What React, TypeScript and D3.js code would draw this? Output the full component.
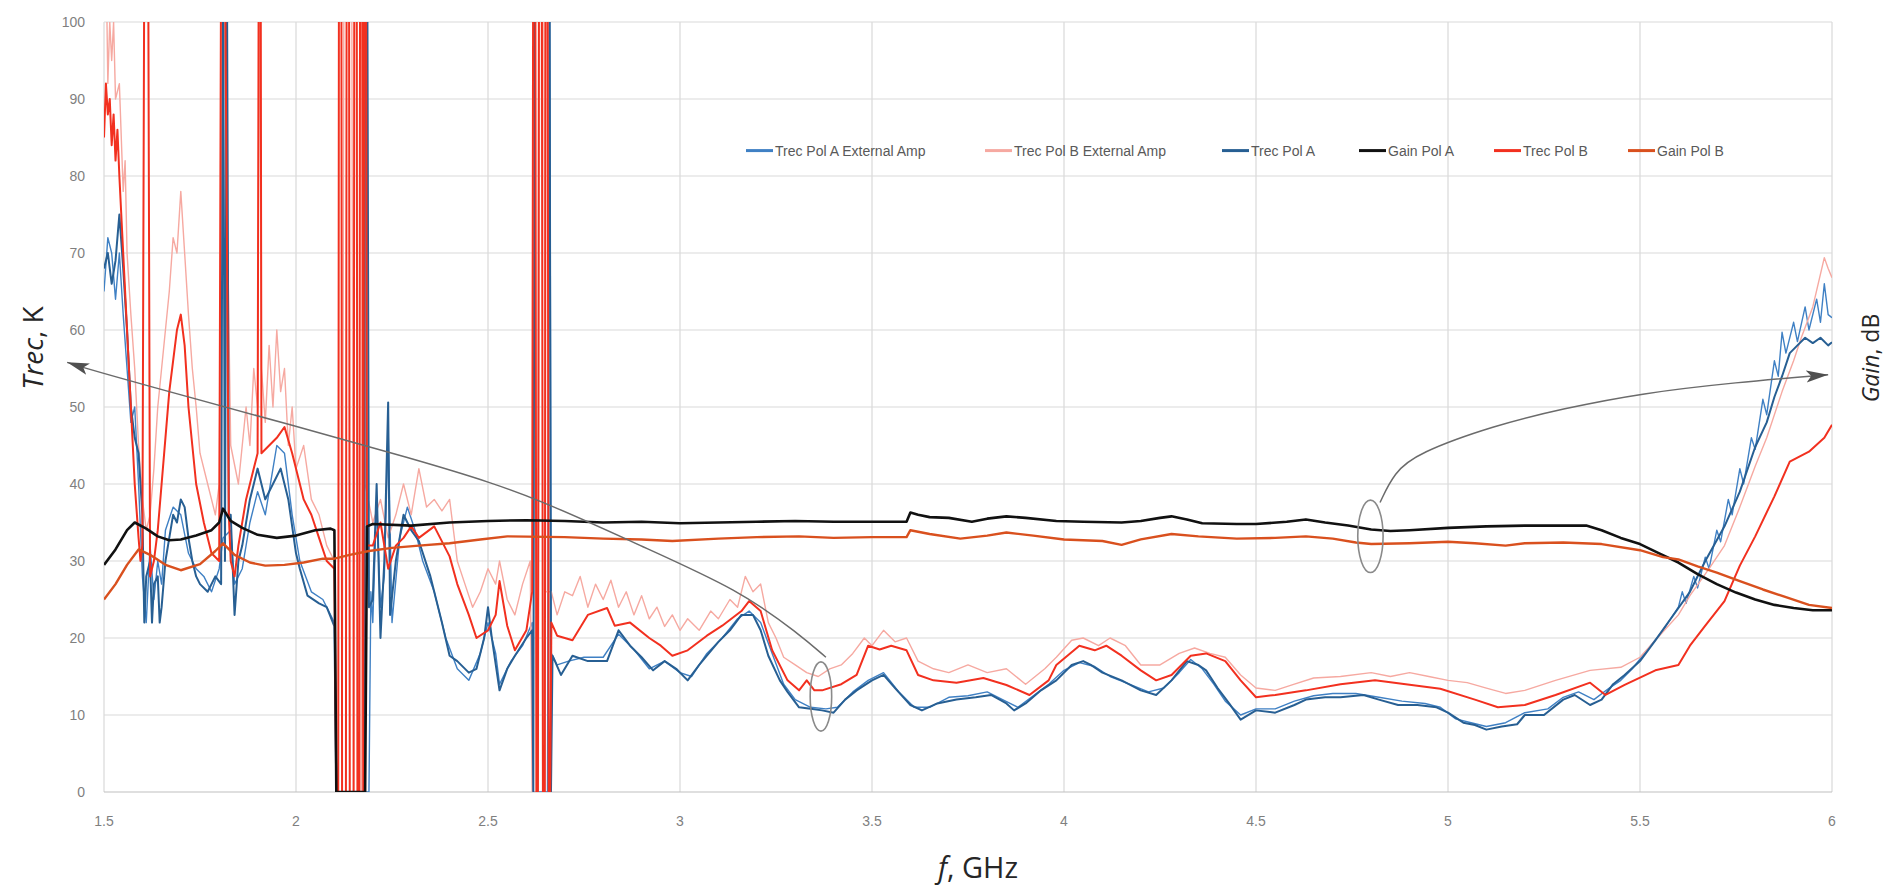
import React, { useEffect, useRef } from 'react'
import * as d3 from 'd3'

type Pt = [number, number]

// frequency (GHz), value
const trecPolAExt: Pt[] = [
  [1.5, 65], [1.51, 72], [1.52, 70], [1.53, 64], [1.54, 70], [1.55, 62], [1.56, 55], [1.57, 48], [1.58, 50], [1.59, 40],
  [1.6, 28], [1.61, 22], [1.62, 32], [1.63, 25], [1.64, 30], [1.65, 27], [1.66, 34], [1.68, 37], [1.7, 36], [1.72, 31],
  [1.74, 29], [1.76, 28], [1.78, 26], [1.8, 29], [1.81, 33], [1.83, 34], [1.84, 27], [1.86, 29], [1.88, 35], [1.9, 39],
  [1.92, 36], [1.94, 42], [1.95, 45], [1.97, 44], [1.99, 36], [2.01, 30], [2.04, 26], [2.07, 25], [2.09, 23], [2.1, 22],
  [2.106, 0], [2.19, 0], [2.195, 26], [2.2, 22], [2.21, 38], [2.22, 24], [2.23, 28], [2.24, 47], [2.25, 22], [2.27, 33],
  [2.29, 37], [2.31, 34], [2.33, 30], [2.36, 26], [2.39, 20], [2.42, 16], [2.45, 14.5], [2.48, 18], [2.5, 22], [2.52, 18],
  [2.53, 14], [2.56, 17], [2.59, 19], [2.615, 22], [2.617, 0], [2.655, 0], [2.66, 110], [2.665, 18], [2.68, 16.5], [2.71, 17],
  [2.75, 17.5], [2.8, 17.5], [2.84, 20.5], [2.88, 18.5], [2.92, 16], [2.96, 17], [3.0, 15.5], [3.03, 15], [3.07, 18], [3.11, 20],
  [3.15, 22.5], [3.18, 23.5], [3.21, 22], [3.24, 18], [3.27, 14], [3.3, 12], [3.34, 11], [3.38, 10.8], [3.41, 11], [3.45, 13],
  [3.49, 14.5], [3.53, 15.5], [3.57, 13], [3.61, 11], [3.65, 11], [3.7, 12.3], [3.75, 12.5], [3.8, 13], [3.84, 12], [3.88, 11],
  [3.92, 12.5], [3.96, 14], [4.0, 15.8], [4.04, 16.8], [4.08, 16.3], [4.12, 15], [4.17, 14], [4.22, 13], [4.26, 13.5], [4.3, 15.5],
  [4.33, 17.2], [4.36, 16], [4.39, 14], [4.42, 11.8], [4.46, 10], [4.5, 10.8], [4.55, 10.8], [4.6, 11.8], [4.65, 12.5], [4.7, 12.8],
  [4.76, 12.8], [4.82, 12.3], [4.88, 11.8], [4.94, 11.5], [4.98, 11], [5.02, 9.5], [5.06, 9], [5.1, 8.5], [5.15, 9], [5.2, 10.3],
  [5.26, 10.8], [5.3, 12.3], [5.34, 13], [5.38, 12], [5.42, 13.5], [5.45, 14.5], [5.48, 16], [5.52, 18.5], [5.56, 21], [5.6, 24],
  [5.61, 26], [5.62, 24.5], [5.64, 28], [5.65, 26.5], [5.67, 30.5], [5.68, 29], [5.7, 34], [5.71, 32.5], [5.73, 38], [5.74, 36],
  [5.76, 42], [5.77, 40], [5.79, 46], [5.8, 44.5], [5.82, 51], [5.83, 49], [5.85, 56], [5.86, 54], [5.87, 59.7], [5.88, 57],
  [5.9, 61], [5.91, 58.5], [5.93, 63], [5.94, 60], [5.96, 64], [5.97, 61], [5.98, 66], [5.99, 62], [6.0, 61.6],
]

const trecPolBExt: Pt[] = [
  [1.5, 100], [1.505, 110], [1.51, 92], [1.515, 100], [1.52, 95], [1.525, 100], [1.53, 90], [1.54, 92], [1.55, 78], [1.555, 82],
  [1.56, 70], [1.57, 62], [1.58, 55], [1.59, 45], [1.6, 38], [1.61, 34], [1.62, 36], [1.63, 42], [1.64, 50], [1.65, 55],
  [1.66, 60], [1.67, 65], [1.68, 72], [1.69, 70], [1.7, 78], [1.71, 70], [1.72, 62], [1.73, 55], [1.74, 50], [1.75, 44],
  [1.77, 40], [1.79, 36], [1.8, 40], [1.81, 110], [1.83, 45], [1.85, 40], [1.86, 45], [1.87, 50], [1.88, 45], [1.89, 55],
  [1.9, 50], [1.905, 110], [1.91, 55], [1.92, 48], [1.93, 58], [1.94, 50], [1.95, 60], [1.96, 52], [1.97, 55], [1.98, 45],
  [1.99, 50], [2.0, 42], [2.02, 45], [2.04, 38], [2.06, 36], [2.08, 32], [2.1, 30], [2.105, 0], [2.12, 0], [2.125, 110],
  [2.145, 110], [2.15, 0], [2.17, 0], [2.175, 110], [2.18, 40], [2.2, 35], [2.22, 38], [2.24, 33], [2.26, 36], [2.28, 40],
  [2.3, 36], [2.32, 42], [2.34, 37], [2.36, 38], [2.38, 36.5], [2.4, 38], [2.42, 30], [2.44, 27], [2.46, 24], [2.48, 26],
  [2.5, 29], [2.52, 27], [2.53, 30], [2.55, 25], [2.57, 23], [2.59, 27], [2.61, 30], [2.615, 0], [2.63, 0], [2.635, 110],
  [2.645, 110], [2.65, 26], [2.665, 26], [2.68, 23], [2.7, 26], [2.72, 25.5], [2.74, 28], [2.76, 24], [2.78, 27], [2.8, 25],
  [2.82, 27.5], [2.84, 24], [2.86, 26], [2.88, 23], [2.9, 25.5], [2.92, 22.5], [2.94, 24], [2.96, 21.5], [2.98, 23], [3.0, 21],
  [3.02, 22.5], [3.05, 21], [3.08, 23.5], [3.1, 22.5], [3.13, 25], [3.15, 24], [3.17, 28], [3.19, 26], [3.21, 27], [3.23, 22],
  [3.25, 20], [3.27, 17.5], [3.3, 16.5], [3.33, 15.5], [3.36, 15], [3.39, 16], [3.42, 16.5], [3.45, 18], [3.48, 20], [3.5, 19],
  [3.53, 21], [3.56, 19.5], [3.59, 20], [3.62, 17], [3.66, 16], [3.7, 15.5], [3.75, 16.5], [3.8, 15.5], [3.85, 16], [3.9, 14],
  [3.95, 16], [3.98, 17.5], [4.02, 19.7], [4.05, 20], [4.09, 19], [4.12, 20], [4.16, 19], [4.2, 16.5], [4.25, 16.5], [4.3, 18],
  [4.34, 18.7], [4.38, 18], [4.42, 17.5], [4.46, 15.2], [4.5, 13.5], [4.55, 13.2], [4.6, 14], [4.65, 14.8], [4.72, 15], [4.8, 15.5],
  [4.85, 15], [4.9, 15.5], [4.95, 15], [5.0, 14.5], [5.05, 14.2], [5.1, 13.5], [5.15, 12.8], [5.2, 13.2], [5.28, 14.5], [5.37, 15.8],
  [5.45, 16.2], [5.5, 17.5], [5.54, 19.7], [5.6, 23], [5.63, 25.5], [5.68, 29], [5.72, 32], [5.76, 37], [5.8, 42.3], [5.83, 46],
  [5.87, 52], [5.9, 56], [5.92, 59], [5.95, 63], [5.98, 69.4], [5.99, 68], [6.0, 66.8],
]

const trecPolA: Pt[] = [
  [1.5, 68], [1.51, 70], [1.52, 66], [1.53, 69], [1.54, 75], [1.55, 68], [1.56, 60], [1.57, 50], [1.58, 46], [1.59, 44],
  [1.6, 36], [1.605, 22], [1.61, 28], [1.62, 30], [1.625, 22], [1.63, 27], [1.64, 28], [1.645, 22], [1.65, 24], [1.66, 30],
  [1.67, 33], [1.68, 36], [1.69, 35], [1.7, 38], [1.71, 37], [1.72, 33], [1.73, 30], [1.74, 28], [1.75, 27], [1.77, 26],
  [1.79, 28], [1.805, 27], [1.81, 110], [1.815, 30], [1.82, 110], [1.825, 36], [1.83, 36], [1.84, 23], [1.85, 30], [1.86, 32],
  [1.88, 38], [1.9, 42], [1.92, 38], [1.94, 40], [1.96, 42], [1.97, 40], [1.98, 38], [2.0, 31], [2.01, 29], [2.03, 25.5],
  [2.06, 24.5], [2.08, 24], [2.1, 21.5], [2.105, 0], [2.178, 0], [2.18, 120], [2.185, 120], [2.19, 24], [2.2, 25], [2.21, 40],
  [2.22, 20], [2.23, 30], [2.24, 50.6], [2.245, 23], [2.26, 30], [2.28, 36], [2.3, 34], [2.32, 32.6], [2.35, 28], [2.38, 22],
  [2.4, 17.7], [2.42, 17], [2.45, 15.5], [2.47, 16], [2.49, 20], [2.5, 24], [2.51, 20], [2.53, 13.2], [2.55, 16], [2.57, 17.7],
  [2.6, 20], [2.615, 21], [2.618, 0], [2.622, 120], [2.66, 120], [2.664, 0], [2.668, 17.7], [2.69, 15.2], [2.72, 17.7], [2.76, 17],
  [2.81, 17], [2.84, 21], [2.87, 19], [2.9, 17.5], [2.93, 15.8], [2.96, 17], [2.99, 16], [3.02, 14.5], [3.05, 16.5], [3.07, 17.7],
  [3.1, 19.5], [3.13, 21], [3.16, 23], [3.19, 23], [3.21, 21], [3.23, 17.7], [3.26, 14.5], [3.28, 13], [3.31, 11], [3.34, 10.8],
  [3.37, 10.6], [3.4, 10.3], [3.43, 12], [3.46, 13.2], [3.5, 14.5], [3.53, 15.2], [3.56, 13.5], [3.6, 11.3], [3.63, 10.6], [3.67, 11.5],
  [3.72, 12], [3.77, 12.3], [3.81, 12.6], [3.85, 11.5], [3.87, 10.6], [3.9, 11.5], [3.94, 13.2], [3.98, 14.5], [4.02, 16.5], [4.05, 17],
  [4.07, 16.5], [4.1, 15.5], [4.15, 14.5], [4.2, 13.2], [4.24, 12.6], [4.28, 14.5], [4.32, 17], [4.35, 16.5], [4.37, 15.8], [4.4, 13.5],
  [4.43, 11.5], [4.46, 9.4], [4.5, 10.6], [4.55, 10.3], [4.6, 11.3], [4.63, 12], [4.68, 12.3], [4.72, 12.3], [4.78, 12.6], [4.82, 12],
  [4.87, 11.3], [4.92, 11.3], [4.97, 11], [5.0, 10.3], [5.04, 9], [5.07, 8.7], [5.1, 8.1], [5.14, 8.5], [5.18, 8.8], [5.2, 10],
  [5.25, 10], [5.3, 12], [5.33, 12.6], [5.37, 11.3], [5.4, 12], [5.43, 14], [5.46, 15.2], [5.5, 17], [5.54, 19.7], [5.58, 22.5],
  [5.63, 26], [5.67, 30], [5.72, 34.5], [5.76, 39], [5.8, 44.8], [5.83, 48], [5.85, 51.3], [5.87, 54], [5.89, 57], [5.91, 58],
  [5.93, 59], [5.95, 58.3], [5.97, 59], [5.99, 58], [6.0, 58.4],
]

const gainPolA: Pt[] = [
  [1.5, 29.5], [1.53, 31.5], [1.56, 34], [1.58, 35], [1.61, 34.2], [1.64, 33.2], [1.67, 32.7], [1.7, 32.8], [1.74, 33.3], [1.78, 34],
  [1.8, 35], [1.81, 36.8], [1.83, 35.2], [1.86, 34.3], [1.9, 33.4], [1.95, 33], [2.0, 33.3], [2.05, 34], [2.09, 34.2], [2.1, 34],
  [2.105, 0], [2.18, 0], [2.185, 34.5], [2.2, 34.8], [2.3, 34.6], [2.4, 35], [2.5, 35.2], [2.6, 35.3], [2.7, 35.2], [2.8, 35],
  [2.9, 35.1], [3.0, 34.9], [3.1, 35], [3.2, 35.1], [3.3, 35.2], [3.4, 35.1], [3.5, 35.1], [3.59, 35.1], [3.6, 36.3], [3.62, 36],
  [3.65, 35.7], [3.7, 35.6], [3.76, 35.1], [3.8, 35.5], [3.85, 35.8], [3.9, 35.6], [3.98, 35.2], [4.05, 35.1], [4.15, 35], [4.2, 35.2],
  [4.25, 35.6], [4.28, 35.8], [4.32, 35.4], [4.36, 34.9], [4.45, 34.8], [4.5, 34.8], [4.58, 35.1], [4.63, 35.4], [4.68, 35], [4.74, 34.6],
  [4.8, 34.1], [4.85, 33.9], [4.9, 34], [5.0, 34.3], [5.1, 34.5], [5.2, 34.6], [5.3, 34.6], [5.36, 34.6], [5.4, 34], [5.45, 33],
  [5.5, 32.2], [5.55, 31], [5.6, 29.8], [5.65, 28.3], [5.7, 27], [5.75, 25.9], [5.8, 25], [5.85, 24.3], [5.9, 23.9], [5.95, 23.6],
  [6.0, 23.6],
]

const trecPolB: Pt[] = [
  [1.5, 85], [1.505, 92], [1.51, 88], [1.515, 90], [1.52, 84], [1.525, 88], [1.53, 82], [1.535, 86], [1.54, 80], [1.55, 70],
  [1.56, 60], [1.57, 50], [1.58, 40], [1.59, 33], [1.595, 30], [1.6, 32], [1.605, 110], [1.615, 110], [1.62, 28], [1.63, 30],
  [1.64, 34], [1.65, 40], [1.66, 46], [1.67, 52], [1.68, 56], [1.69, 60], [1.7, 62], [1.71, 58], [1.72, 50], [1.73, 45],
  [1.74, 40], [1.76, 35], [1.78, 31], [1.8, 30], [1.805, 110], [1.815, 110], [1.825, 36], [1.83, 30], [1.84, 28], [1.85, 32],
  [1.87, 38], [1.89, 42], [1.9, 44], [1.903, 110], [1.908, 110], [1.91, 44], [1.93, 45], [1.95, 46], [1.97, 47.4], [1.99, 44],
  [2.01, 40], [2.02, 38], [2.04, 36], [2.06, 33], [2.08, 30], [2.1, 29], [2.105, 0], [2.11, 0], [2.112, 120], [2.118, 120],
  [2.12, 0], [2.13, 0], [2.132, 120], [2.138, 120], [2.14, 0], [2.15, 0], [2.152, 120], [2.158, 120], [2.16, 0], [2.165, 0],
  [2.167, 120], [2.172, 120], [2.175, 0], [2.178, 120], [2.182, 120], [2.185, 32], [2.2, 32], [2.22, 35], [2.24, 29], [2.26, 32],
  [2.28, 33], [2.3, 34.5], [2.32, 33], [2.36, 34.5], [2.4, 30.6], [2.42, 27], [2.45, 23], [2.47, 20], [2.5, 21], [2.52, 23],
  [2.53, 27.4], [2.55, 21.6], [2.57, 18.4], [2.6, 21], [2.615, 26], [2.618, 120], [2.623, 120], [2.626, 0], [2.63, 0], [2.633, 120],
  [2.64, 120], [2.643, 0], [2.648, 0], [2.65, 120], [2.655, 120], [2.658, 0], [2.662, 0], [2.665, 22], [2.68, 20.3], [2.72, 19.7],
  [2.76, 23], [2.81, 23.9], [2.83, 21.6], [2.87, 22], [2.92, 20], [2.95, 19], [2.98, 17.7], [3.02, 18.4], [3.07, 20.3], [3.11, 21.6],
  [3.16, 23.5], [3.18, 24.8], [3.21, 23.5], [3.24, 18.4], [3.28, 14.5], [3.31, 13.2], [3.33, 14.5], [3.35, 13.2], [3.37, 13.2], [3.42, 14],
  [3.46, 15.2], [3.49, 19], [3.52, 18.5], [3.55, 19], [3.59, 18.4], [3.62, 15.2], [3.66, 14.5], [3.72, 14.2], [3.79, 14.8], [3.85, 13.9],
  [3.91, 12.6], [3.96, 14.5], [3.98, 16.5], [4.04, 19], [4.08, 18.4], [4.11, 19], [4.15, 17.7], [4.2, 15.8], [4.24, 14.5], [4.28, 15.2],
  [4.33, 17.7], [4.37, 18], [4.42, 17], [4.46, 14.5], [4.5, 12.3], [4.55, 12.6], [4.63, 13.2], [4.72, 14], [4.81, 14.5], [4.89, 14],
  [4.98, 13.4], [5.07, 12], [5.13, 11], [5.2, 11.3], [5.28, 12.6], [5.37, 14.2], [5.41, 12.6], [5.46, 13.9], [5.54, 15.8], [5.6, 16.5],
  [5.63, 19], [5.67, 21.6], [5.72, 24.8], [5.76, 29.4], [5.8, 33.2], [5.85, 38.4], [5.89, 42.9], [5.94, 44.2], [5.98, 46], [6.0, 47.7],
]

const gainPolB: Pt[] = [
  [1.5, 25], [1.53, 27], [1.56, 29.5], [1.59, 31.5], [1.62, 30.8], [1.66, 29.5], [1.7, 28.8], [1.75, 29.6], [1.79, 31.3], [1.81, 32.3],
  [1.84, 30.8], [1.88, 29.8], [1.92, 29.4], [1.97, 29.5], [2.02, 29.8], [2.07, 30.3], [2.1, 30.3], [2.14, 30.8], [2.19, 31.3], [2.25, 31.7],
  [2.32, 32], [2.4, 32.3], [2.48, 32.8], [2.55, 33.2], [2.7, 33.1], [2.8, 32.9], [2.9, 32.8], [2.98, 32.6], [3.1, 32.9], [3.2, 33.1],
  [3.31, 33.2], [3.4, 33], [3.5, 33.1], [3.59, 33.1], [3.6, 34], [3.65, 33.5], [3.73, 32.9], [3.8, 33.3], [3.85, 33.7], [3.92, 33.3],
  [4.0, 32.8], [4.1, 32.6], [4.15, 32.1], [4.2, 32.8], [4.28, 33.5], [4.35, 33.2], [4.45, 32.9], [4.55, 33], [4.63, 33.2], [4.7, 32.9],
  [4.76, 32.4], [4.8, 32.2], [4.9, 32.3], [5.0, 32.5], [5.07, 32.3], [5.15, 32], [5.2, 32.3], [5.3, 32.4], [5.4, 32.2], [5.5, 31.4],
  [5.56, 30.5], [5.6, 30.2], [5.65, 29.3], [5.7, 28.5], [5.76, 27.4], [5.82, 26.3], [5.88, 25.3], [5.94, 24.3], [6.0, 23.9],
]

const seriesNames = ['Trec Pol A External Amp', 'Trec Pol B External Amp', 'Trec Pol A', 'Gain Pol A', 'Trec Pol B', 'Gain Pol B']
const seriesData = [trecPolAExt, trecPolBExt, trecPolA, gainPolA, trecPolB, gainPolB]
const seriesColors = ['#3f80c4', '#f6a9a1', '#275f93', '#111111', '#f2301f', '#d9501e']
const seriesWidths = [1.4, 1.4, 2, 2.6, 2, 2.4]
const drawOrder = [0, 1, 2, 4, 3, 5]

const freqTicks = [1.5, 2, 2.5, 3, 3.5, 4, 4.5, 5, 5.5, 6]
const trecTicks = [0, 10, 20, 30, 40, 50, 60, 70, 80, 90, 100]

// annotation arrows and ellipses, in data units
const arrowToTrec: Pt[] = [[3.38, 17.5], [3.31, 20.5], [3.156, 26.2], [2.896, 32], [2.635, 38], [2.4, 42.1], [1.49, 54.4], [1.404, 55.8]]
const arrowToGain: Pt[] = [[4.823, 37.6], [4.86, 41.5], [4.92, 44], [5.12, 47.6], [5.3, 49.8], [5.505, 51.8], [5.75, 53.2], [5.99, 54.2]]
const ellipseMarks = [
  { f: 3.367, v: 12.4, df: 0.028, dv: 4.5 },
  { f: 4.798, v: 33.2, df: 0.033, dv: 4.7 },
]

const legendX = [746, 985, 1222, 1359, 1494, 1628]

function App() {
  const svgRef = useRef<SVGSVGElement>(null)

  const width = 1890
  const height = 889
  const margin = { top: 22, bottom: 97, left: 104, right: 58 }

  useEffect(() => {
    const svg = d3.select(svgRef.current)
    svg.selectAll('*').remove()

    const x = d3.scaleLinear().domain([1.5, 6]).range([margin.left, width - margin.right])
    const y = d3.scaleLinear().domain([0, 100]).range([height - margin.bottom, margin.top])

    const defs = svg.append('defs')
    defs.append('clipPath').attr('id', 'plot-clip')
      .append('rect')
      .attr('x', x(1.5)).attr('y', y(100))
      .attr('width', x(6) - x(1.5)).attr('height', y(0) - y(100))
    defs.append('marker')
      .attr('id', 'arrowhead')
      .attr('markerUnits', 'userSpaceOnUse')
      .attr('markerWidth', 24).attr('markerHeight', 14)
      .attr('refX', 22).attr('refY', 7)
      .attr('orient', 'auto')
      .append('path')
      .attr('d', 'M0,1 L22,7 L0,13 L5,7 Z')
      .attr('fill', '#505050')

    // grid
    svg.append('g')
      .selectAll('line')
      .data(freqTicks)
      .join('line')
      .attr('x1', d => x(d)).attr('x2', d => x(d))
      .attr('y1', y(0)).attr('y2', y(100))
      .attr('stroke', '#d9d9d9').attr('stroke-width', 1.2)
    svg.append('g')
      .selectAll('line')
      .data(trecTicks)
      .join('line')
      .attr('x1', x(1.5)).attr('x2', x(6))
      .attr('y1', d => y(d)).attr('y2', d => y(d))
      .attr('stroke', d => (d === 0 ? '#bfbfbf' : '#d9d9d9')).attr('stroke-width', 1.2)

    // tick labels
    svg.append('g')
      .selectAll('text')
      .data(trecTicks)
      .join('text')
      .attr('x', x(1.5) - 19).attr('y', d => y(d) + 5)
      .attr('text-anchor', 'end')
      .attr('font-family', 'Liberation Sans, Arial, sans-serif')
      .attr('font-size', 14)
      .attr('fill', '#7f7f7f')
      .text(d => d)
    svg.append('g')
      .selectAll('text')
      .data(freqTicks)
      .join('text')
      .attr('x', d => x(d)).attr('y', y(0) + 34)
      .attr('text-anchor', 'middle')
      .attr('font-family', 'Liberation Sans, Arial, sans-serif')
      .attr('font-size', 14)
      .attr('fill', '#7f7f7f')
      .text(d => d3.format('')(d))

    // series
    const line = d3.line<Pt>().x(d => x(d[0])).y(d => y(d[1]))
    const plot = svg.append('g').attr('clip-path', 'url(#plot-clip)')
    drawOrder.forEach(i => {
      plot.append('path')
        .attr('d', line(seriesData[i]))
        .attr('fill', 'none')
        .attr('stroke', seriesColors[i])
        .attr('stroke-width', seriesWidths[i])
        .attr('stroke-linejoin', 'round')
    })

    // annotations
    const curve = d3.line<Pt>().x(d => x(d[0])).y(d => y(d[1])).curve(d3.curveBasis)
    ;[arrowToTrec, arrowToGain].forEach(pts => {
      svg.append('path')
        .attr('d', curve(pts))
        .attr('fill', 'none')
        .attr('stroke', '#6b6b6b')
        .attr('stroke-width', 1.5)
        .attr('marker-end', 'url(#arrowhead)')
    })
    svg.append('g')
      .selectAll('ellipse')
      .data(ellipseMarks)
      .join('ellipse')
      .attr('cx', d => x(d.f)).attr('cy', d => y(d.v))
      .attr('rx', d => x(d.f + d.df) - x(d.f))
      .attr('ry', d => y(0) - y(d.dv))
      .attr('fill', 'none')
      .attr('stroke', '#8a8a8a')
      .attr('stroke-width', 1.6)

    // legend
    const legend = svg.append('g').attr('transform', `translate(0, ${y(83.3)})`)
    seriesNames.forEach((name, i) => {
      const lx = legendX[i]
      legend.append('line')
        .attr('x1', lx).attr('x2', lx + 27)
        .attr('y1', 0).attr('y2', 0)
        .attr('stroke', seriesColors[i])
        .attr('stroke-width', 3)
      legend.append('text')
        .attr('x', lx + 29).attr('y', 5)
        .attr('font-family', 'Liberation Sans, Arial, sans-serif')
        .attr('font-size', 14)
        .attr('fill', '#595959')
        .text(name)
    })

    // axis titles
    const fx = svg.append('text')
      .attr('x', 978).attr('y', 878)
      .attr('text-anchor', 'middle')
      .attr('font-family', 'Open Sans, sans-serif')
      .attr('font-size', 29)
      .attr('fill', '#262626')
    fx.append('tspan').attr('font-style', 'italic').text('f')
    fx.append('tspan').text(', GHz')

    const ty = svg.append('text')
      .attr('transform', 'translate(43, 348) rotate(-90)')
      .attr('text-anchor', 'middle')
      .attr('font-family', 'Open Sans, sans-serif')
      .attr('font-size', 28)
      .attr('fill', '#262626')
    ty.append('tspan').attr('font-style', 'italic').text('Trec')
    ty.append('tspan').text(', K')

    const gy = svg.append('text')
      .attr('transform', 'translate(1879, 358) rotate(-90)')
      .attr('text-anchor', 'middle')
      .attr('font-family', 'Open Sans, sans-serif')
      .attr('font-size', 23)
      .attr('fill', '#262626')
    gy.append('tspan').attr('font-style', 'italic').text('Gain')
    gy.append('tspan').text(', dB')
  }, [])

  return (
    <div style={{ position: 'absolute', left: 0, top: 0 }}>
      <svg ref={svgRef} width={width} height={height} style={{ display: 'block', background: '#fff' }} />
    </div>
  )
}

export default App
